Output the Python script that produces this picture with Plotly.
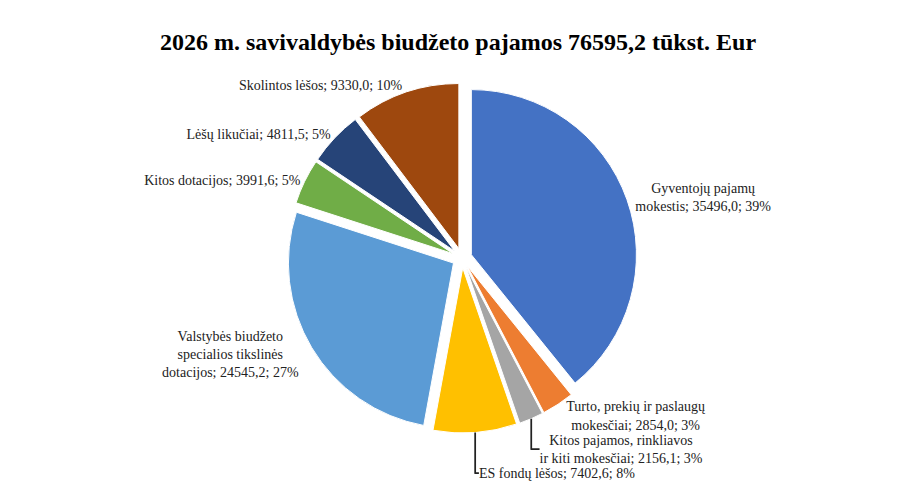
import plotly.graph_objects as go

labels = ["Gyventojų pajamų<br>mokestis", "Turto, prekių ir paslaugų<br>mokesčiai",
          "Kitos pajamos, rinkliavos<br>ir kiti mokesčiai", "ES fondų lėšos",
          "Valstybės biudžeto<br>specialios tikslinės<br>dotacijos", "Kitos dotacijos",
          "Lėšų likučiai", "Skolintos lėšos"]
values = [35496.0, 2854.0, 2156.1, 7402.6, 24545.2, 3991.6, 4811.5, 9330.0]
percents = ["39%", "3%", "3%", "8%", "27%", "5%", "5%", "10%"]
colors = ["#4472C4", "#ED7D31", "#A5A5A5", "#FFC000", "#5B9BD5", "#70AD47", "#264478", "#9E480E"]

custom = [[f"{v:.1f}".replace(".", ","), p] for v, p in zip(values, percents)]

fig = go.Figure(go.Pie(
    labels=labels, values=values, customdata=custom, sort=False, direction="clockwise",
    rotation=0, marker=dict(colors=colors, line=dict(color="white", width=1)),
    pull=[0.06] * len(values),
    texttemplate="%{label}; %{customdata[0]}; %{customdata[1]}",
    textposition="outside", textfont=dict(family="Liberation Serif", size=14, color="#222"),
    showlegend=False, hoverinfo="skip"))
fig.update_layout(
    width=900, height=498, paper_bgcolor="white",
    title=dict(text="<b>2026 m. savivaldybės biudžeto pajamos 76595,2 tūkst. Eur</b>",
               x=0.5, y=0.95, font=dict(family="Liberation Serif", size=24, color="black")),
    margin=dict(l=140, r=140, t=75, b=30))
fig.write_html("out.html")
